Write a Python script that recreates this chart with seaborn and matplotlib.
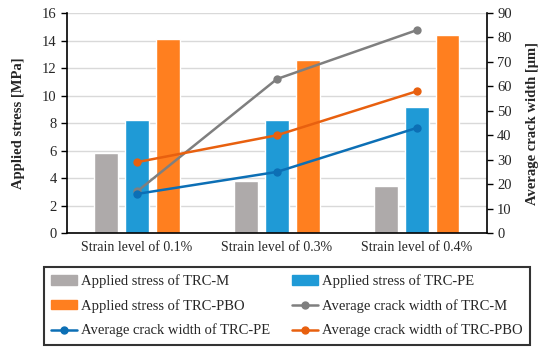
import matplotlib.pyplot as plt
import seaborn as sns
import pandas as pd
import numpy as np
from matplotlib.patches import Patch
from matplotlib.lines import Line2D

# データ
strain = ["Strain level of 0.1%", "Strain level of 0.3%", "Strain level of 0.4%"]
stress_m = [5.8, 3.8, 3.4]
stress_pe = [8.2, 8.2, 9.2]
stress_pbo = [14.1, 12.6, 14.4]
crack_m = [17, 63, 83]
crack_pe = [16, 25, 43]
crack_pbo = [29, 40, 58]

bar_names = ["Applied stress of TRC-M", "Applied stress of TRC-PE", "Applied stress of TRC-PBO"]
line_names = ["Average crack width of TRC-M", "Average crack width of TRC-PE", "Average crack width of TRC-PBO"]
bar_colors = ["#AEAAAA", "#1F9AD6", "#FF7F1F"]
line_colors = ["#7F7F7F", "#0C6FB5", "#E8600F"]

sns.set_theme(style="white")
plt.rcParams['font.family'] = ['Liberation Serif', 'DejaVu Serif']

df = pd.DataFrame({"strain": strain * 3,
                   "stress": stress_m + stress_pe + stress_pbo,
                   "type": [bar_names[0]] * 3 + [bar_names[1]] * 3 + [bar_names[2]] * 3})

fig = plt.figure(figsize=(5.5, 3.52), dpi=100)
ax = fig.add_axes([0.122, 0.338, 0.763, 0.625])

sns.barplot(data=df, x="strain", y="stress", hue="type", palette=bar_colors,
            saturation=1, width=0.66, gap=0.23, ax=ax, legend=False, zorder=2)
ax.set_ylim(0, 16)
ax.set_yticks(range(0, 17, 2))
ax.set_xlim(-0.5, 2.5)
ax.yaxis.grid(True, color="#D9D9D9", lw=1, zorder=0)
ax.set_axisbelow(True)
ax.set_xlabel("")
ax.set_ylabel("Applied stress [MPa]", fontsize=10.5, fontweight="bold", labelpad=12)
ax.set_xticks([0, 1, 2])
ax.set_xticklabels(strain, fontsize=10)
ax.tick_params(axis="x", length=0, pad=6)
ax.set_xticks([0.5, 1.5], minor=True)
ax.tick_params(axis="x", which="minor", length=4, width=1, direction="out", color="black")
ax.tick_params(axis="y", length=4, width=1, direction="out", color="black", labelsize=10.5, left=True)

ax2 = ax.twinx()
x = np.arange(len(strain))
for vals, name, c in zip([crack_m, crack_pe, crack_pbo], line_names, line_colors):
    sns.lineplot(x=x, y=vals, color=c, marker="o", markersize=6, markeredgewidth=0,
                 lw=1.8, ax=ax2, label=name, legend=False)
ax2.set_ylim(0, 90)
ax2.set_yticks(range(0, 91, 10))
ax2.set_ylabel("Average crack width [μm]", fontsize=10.5, fontweight="bold", labelpad=10)
ax2.tick_params(axis="y", length=4, width=1, direction="out", color="black", labelsize=10.5, right=True)

for a in (ax, ax2):
    a.spines["top"].set_visible(False)
    for s in ("left", "right", "bottom"):
        a.spines[s].set_color("black")
        a.spines[s].set_linewidth(1.2)
ax.spines["right"].set_visible(False)
ax2.spines["left"].set_visible(False)
ax2.spines["bottom"].set_visible(False)

# 凡例 (行ごとの順番にする)
bh = [Patch(color=c, label=n) for c, n in zip(bar_colors, bar_names)]
lh = [Line2D([], [], color=c, marker="o", markersize=5, lw=1.8, label=n) for c, n in zip(line_colors, line_names)]
handles = [bh[0], bh[2], lh[1], bh[1], lh[0], lh[2]]
leg = fig.legend(handles=handles, labels=[h.get_label() for h in handles], ncol=2,
                 loc="center", bbox_to_anchor=(0.522, 0.131), fontsize=10.5,
                 frameon=True, fancybox=False, edgecolor="black", handlelength=1.75,
                 handleheight=0.6, columnspacing=1.5, borderpad=0.5, labelspacing=0.75,
                 handletextpad=0.3)
leg.get_frame().set_linewidth(1.5)

fig.savefig("out.png", dpi=100)
